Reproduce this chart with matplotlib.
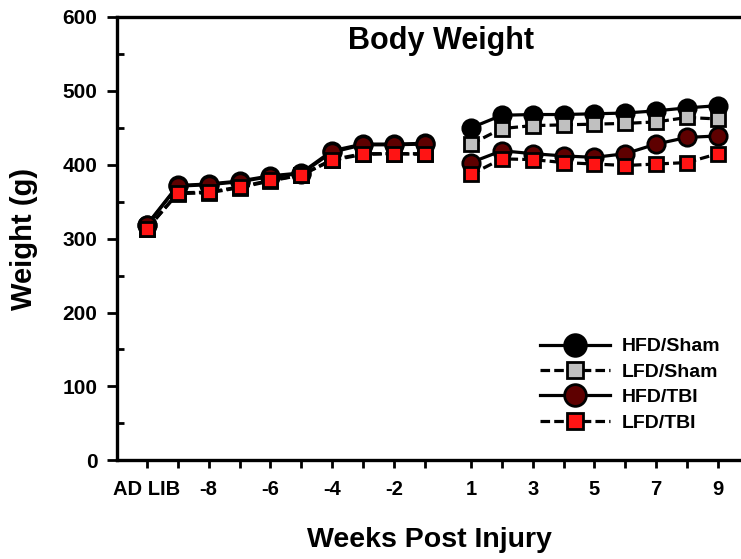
import matplotlib
matplotlib.use("Agg")
import matplotlib.pyplot as plt
import numpy as np

plt.rcParams['font.family'] = ['Liberation Sans', 'DejaVu Sans']
plt.rcParams['font.weight'] = 'bold'

# Tick labels / categories
pre_labels = ["AD LIB", "", "-8", "", "-6", "", "-4", "", "-2", ""]
post_labels = ["1", "", "3", "", "5", "", "7", "", "9"]

# Series values (g)
hfd_sham_pre = [319, 372, 374, 378, 385, 389, 419, 428, 428, 429]
lfd_sham_pre = [313, 361, 362, 369, 378, 386, 406, 414, 415, 414]
hfd_tbi_pre = [318, 371, 373, 377, 384, 388, 417, 427, 427, 428]
lfd_tbi_pre = [313, 362, 363, 370, 379, 386, 407, 415, 415, 415]

hfd_sham_post = [450, 467, 468, 468, 469, 470, 473, 477, 480]
lfd_sham_post = [428, 449, 453, 454, 455, 456, 458, 464, 462]
hfd_tbi_post = [403, 419, 415, 412, 410, 415, 428, 437, 439]
lfd_tbi_post = [387, 408, 407, 403, 401, 399, 401, 403, 415]

series = [
    ("HFD/Sham", hfd_sham_pre, hfd_sham_post, 'o', '#000000', '-'),
    ("LFD/Sham", lfd_sham_pre, lfd_sham_post, 's', '#c0c0c0', (0, (3, 1.3))),
    ("HFD/TBI", hfd_tbi_pre, hfd_tbi_post, 'o', '#5e0000', '-'),
    ("LFD/TBI", lfd_tbi_pre, lfd_tbi_post, 's', '#ff1414', (0, (3, 1.3))),
]

x_pre = np.arange(len(pre_labels))
x_post = np.arange(len(post_labels)) + len(pre_labels) + 0.5

fig = plt.figure(figsize=(7.41, 5.59), dpi=100)
ax = fig.add_axes([117/741, (559-460.3)/559, 1 - 117/741, (460.3-17)/559])

for name, pre, post, mk, col, ls in series:
    ms = 12.5 if mk == 'o' else 9.5
    kw = dict(marker=mk, color='black', markerfacecolor=col, markeredgecolor='black',
              markersize=ms, markeredgewidth=2.0, linewidth=2.3, linestyle=ls)
    ax.plot(x_pre, pre, label=name, **kw)
    ax.plot(x_post, post, **kw)

ax.set_xlim(-0.97, 19.25)
ax.set_ylim(0, 600)
ax.set_xticks(np.concatenate([x_pre, x_post]))
ax.set_xticklabels(pre_labels + post_labels, fontsize=14.5, fontweight='bold')
ax.set_yticks(np.arange(0, 601, 100))
ax.set_yticks(np.arange(50, 600, 100), minor=True)
ax.tick_params(axis='y', which='major', direction='out', length=7, width=2, labelsize=15, pad=7)
ax.tick_params(axis='y', which='minor', direction='in', length=5, width=2)
ax.tick_params(axis='x', which='major', direction='out', length=6, width=2, labelsize=14.5, pad=8)
for lab in ax.get_yticklabels():
    lab.set_fontweight('bold')

ax.spines['right'].set_visible(False)
for s in ['left', 'bottom', 'top']:
    ax.spines[s].set_linewidth(2.4)

ax.set_xlabel("Weeks Post Injury", fontsize=20.5, fontweight='bold', labelpad=20)
ax.set_ylabel("Weight (g)", fontsize=21, fontweight='bold', labelpad=18)
fig.text(441/741, 1 - 41/559, "Body Weight", fontsize=22, fontweight='bold', ha='center', va='center')

leg = ax.legend(loc='upper left', bbox_to_anchor=((530-117)/624, (460.3-328)/443.3),
                frameon=False, fontsize=14, handlelength=3.6, markerscale=1.25,
                labelspacing=0.4, handletextpad=0.6, borderpad=0)
for t in leg.get_texts():
    t.set_fontweight('bold')

fig.savefig("out.png", dpi=100)
